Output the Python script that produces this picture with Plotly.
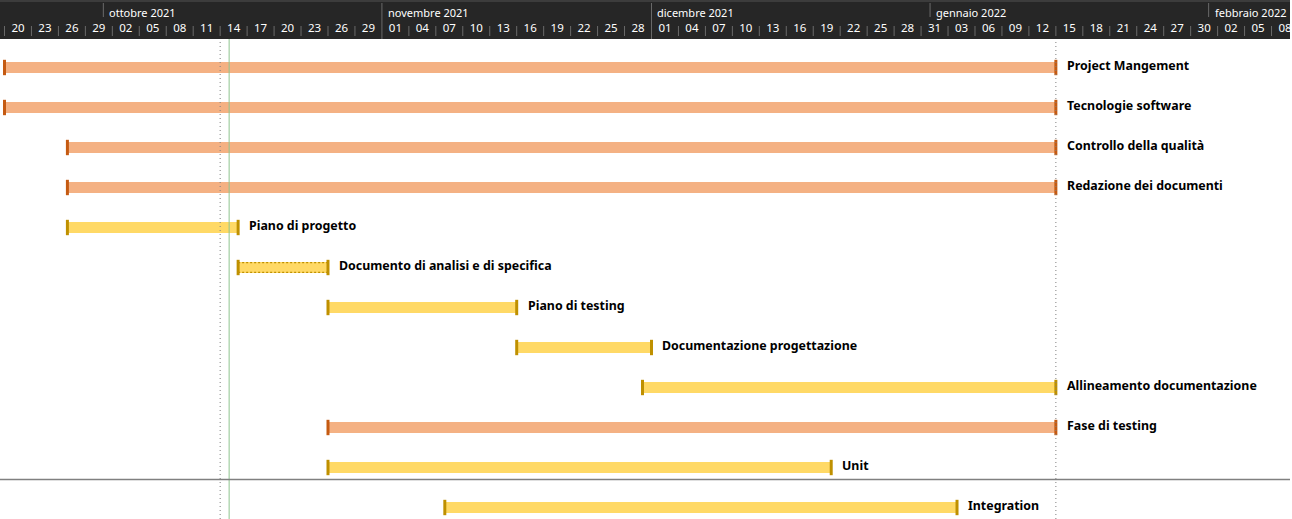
import plotly.graph_objects as go
import pandas as pd

# ---------------- data ----------------
tasks = ["Project Mangement", "Tecnologie software", "Controllo della qualità",
         "Redazione dei documenti", "Piano di progetto",
         "Documento di analisi e di specifica", "Piano di testing",
         "Documentazione progettazione", "Allineamento documentazione",
         "Fase di testing", "Unit", "Integration"]
starts = ["2021-09-20", "2021-09-20", "2021-09-27", "2021-09-27", "2021-09-27",
          "2021-10-16", "2021-10-26", "2021-11-16", "2021-11-30", "2021-10-26",
          "2021-10-26", "2021-11-08"]
ends = ["2022-01-15", "2022-01-15", "2022-01-15", "2022-01-15", "2021-10-16",
        "2021-10-26", "2021-11-16", "2021-12-01", "2022-01-15", "2022-01-15",
        "2021-12-21", "2022-01-04"]
kinds = ["summary", "summary", "summary", "summary", "task", "task", "task",
         "task", "task", "summary", "task", "task"]
dotted_tasks = ["Documento di analisi e di specifica"]

month_starts = ["2021-10-01", "2021-11-01", "2021-12-01", "2022-01-01", "2022-02-01"]
month_labels = ["ottobre 2021", "novembre 2021", "dicembre 2021", "gennaio 2022", "febbraio 2022"]

day_cells = pd.date_range("2021-09-17", "2022-02-08", freq="3D")
day_labels = [d.strftime("%d") for d in day_cells]

status_date = "2021-10-15"
dotted_dates = ["2021-10-14", "2022-01-15"]

view_start = pd.Timestamp("2021-09-19 12:00")
view_end = pd.Timestamp("2022-02-10 01:20")

# ---------------- styles ----------------
W, H = 1292, 519
HEADER = 39
fill = {"summary": "#F4B183", "task": "#FFD966"}
edge = {"summary": "#C55A11", "task": "#BF9000"}
BAR_W = 0.275
FONT = "Noto Sans"


def py(p):
    """figure pixel row -> paper coordinate"""
    return (H - p) / (H - HEADER)


rows = list(range(len(tasks)))
fig = go.Figure()

for k in ["summary", "task"]:
    idx = [i for i in rows if kinds[i] == k]
    b = [pd.Timestamp(starts[i]) for i in idx]
    dur = [(pd.Timestamp(ends[i]) - pd.Timestamp(starts[i])).total_seconds() * 1000 for i in idx]
    fig.add_trace(go.Bar(
        y=[rows[i] for i in idx], x=dur, base=b, orientation="h", width=BAR_W,
        marker=dict(color=fill[k], line=dict(width=0)), showlegend=False,
        hoverinfo="skip"))

# dotted outline for highlighted task
for name in dotted_tasks:
    i = tasks.index(name)
    for off in (-BAR_W / 2 + 0.015, BAR_W / 2 - 0.015):
        fig.add_trace(go.Scatter(
            x=[starts[i], ends[i]], y=[rows[i] + off, rows[i] + off], mode="lines",
            line=dict(color=edge[kinds[i]], width=1.3, dash="2px,2px"),
            showlegend=False, hoverinfo="skip"))

# start / end markers
for k in ["summary", "task"]:
    idx = [i for i in rows if kinds[i] == k]
    fig.add_trace(go.Scatter(
        x=[starts[i] for i in idx] + [ends[i] for i in idx],
        y=[rows[i] for i in idx] * 2, mode="markers",
        marker=dict(symbol="line-ns", size=11, line=dict(width=3, color=edge[k])),
        showlegend=False, hoverinfo="skip"))

shapes = []
# header background
shapes.append(dict(type="rect", xref="paper", yref="paper", x0=0, x1=1,
                   y0=py(HEADER), y1=py(0), fillcolor="#262626", line=dict(width=0),
                   layer="below"))
shapes.append(dict(type="line", xref="paper", yref="paper", x0=0, x1=1,
                   y0=py(1), y1=py(1), line=dict(color="#3c3c3c", width=2)))
# month separators
for m in month_starts:
    shapes.append(dict(type="line", xref="x", yref="paper", x0=m, x1=m,
                       y0=py(17), y1=py(3), line=dict(color="#6a6a6a", width=1)))
# day separators
for d in day_cells:
    top = 17 if d.day == 1 else 26
    bot = HEADER if d.day == 1 else 36
    shapes.append(dict(type="line", xref="x", yref="paper", x0=d, x1=d,
                       y0=py(bot), y1=py(top), line=dict(color="#6a6a6a", width=1)))
# status and reference lines
for d in dotted_dates:
    shapes.append(dict(type="line", xref="x", yref="paper", x0=d, x1=d, y0=0, y1=1,
                       line=dict(color="#7f7f7f", width=1, dash="1px,3px"), layer="above"))
shapes.append(dict(type="line", xref="x", yref="paper", x0=status_date, x1=status_date,
                   y0=0, y1=1, line=dict(color="#8fc48f", width=1), layer="above"))
# page break
shapes.append(dict(type="line", xref="paper", yref="paper", x0=0, x1=1,
                   y0=py(479.5), y1=py(479.5), line=dict(color="#808080", width=1.5)))

annotations = []
for m, lab in zip(month_starts, month_labels):
    annotations.append(dict(x=m, y=py(12), xref="x", yref="paper", text=lab,
                            showarrow=False, xanchor="left", yanchor="middle", xshift=4,
                            font=dict(family=FONT, size=11, color="#ffffff")))
for i in rows:
    annotations.append(dict(x=ends[i], y=rows[i], xref="x", yref="y",
                            text="<b>" + tasks[i] + "</b>", showarrow=False,
                            xanchor="left", yanchor="middle", xshift=9, yshift=2,
                            font=dict(family=FONT, size=12.4, color="#000000")))

row_top = (HEADER - 67.5) / 40
row_bot = (H - 67.5) / 40

fig.update_layout(
    width=W, height=H, margin=dict(l=0, r=0, t=HEADER, b=0),
    paper_bgcolor="#ffffff", plot_bgcolor="#ffffff", bargap=0,
    shapes=shapes, annotations=annotations, showlegend=False,
    xaxis=dict(type="date", range=[view_start, view_end], side="top",
               tickvals=[d + pd.Timedelta(hours=36) for d in day_cells],
               ticktext=day_labels, ticks="", showgrid=False, zeroline=False,
               showline=False, tickfont=dict(family=FONT, size=11.5, color="#ffffff"),
               ticklabelstandoff=4, ticklabeloverflow="allow", fixedrange=True),
    yaxis=dict(range=[row_bot, row_top], showticklabels=False, showgrid=False,
               zeroline=False, showline=False, fixedrange=True),
)

fig.write_html("out.html", config={"displayModeBar": False})
